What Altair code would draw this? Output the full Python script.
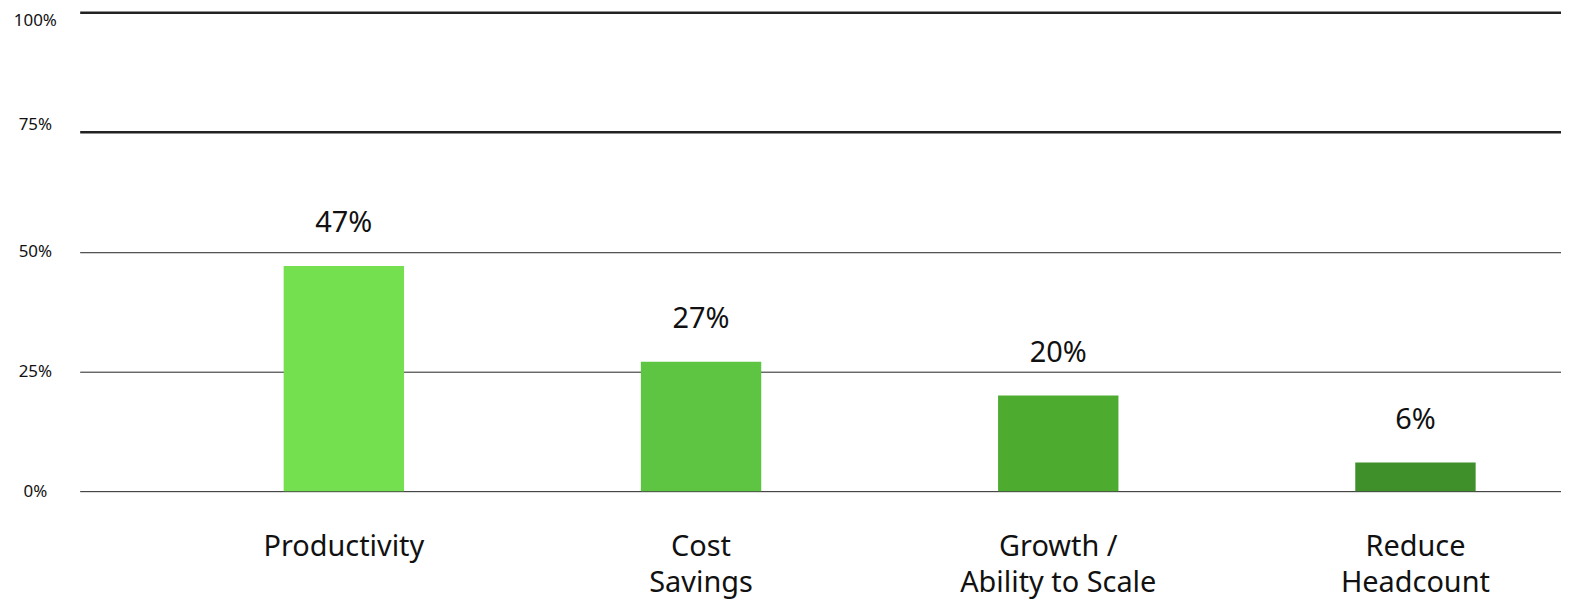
import altair as alt
import pandas as pd

categories = ["Productivity", "Cost\nSavings", "Growth /\nAbility to Scale", "Reduce\nHeadcount"]
values = [47, 27, 20, 6]
value_labels = ["47%", "27%", "20%", "6%"]
colors = ["#74E04F", "#5DC542", "#4DAB30", "#3F8F2A"]
y_ticks = [0, 25, 50, 75, 100]

df = pd.DataFrame({"cat": categories, "val": values, "lab": value_labels, "col": colors})

FONT = "Noto Sans"

x_enc = alt.X("cat:N", sort=categories,
              scale=alt.Scale(paddingInner=0.663, paddingOuter=0.405, align=0.705),
              axis=alt.Axis(title=None, domain=False, ticks=False, labelAngle=0,
                            labelFontSize=29, labelFont=FONT, labelColor="#111",
                            labelPadding=42, labelLineHeight=36, labelLimit=500,
                            labelExpr="split(datum.label, '\\n')"))
y_enc = alt.Y("val:Q", scale=alt.Scale(domain=[0, 100], nice=False),
              axis=alt.Axis(title=None, values=y_ticks, domain=False, ticks=False,
                            labelExpr="datum.value + '%'", labelFontSize=17, labelFont=FONT,
                            labelColor="#111", labelAlign="center", labelPadding=45,
                            labelOffset={"expr": "datum.value == 100 ? 8 : datum.value == 75 ? -8 : 0"},
                            grid=True, gridColor="#222",
                            gridWidth={"expr": "datum.value >= 75 ? 2.5 : 1"}))

bars = alt.Chart(df).mark_bar().encode(
    x=x_enc, y=y_enc,
    color=alt.Color("col:N", scale=None),
)
text = alt.Chart(df).mark_text(baseline="bottom", dy=-28, fontSize=29, font=FONT, color="#111").encode(
    x=alt.X("cat:N", sort=categories), y="val:Q", text="lab:N"
)

chart = (bars + text).properties(
    width=1488, height=481,
    autosize=alt.AutoSizeParams(type="none"),
    padding={"left": 72, "top": 3, "right": 0, "bottom": 109},
).configure_view(stroke=None)

chart.save("out.html", embed_options={"renderer": "svg", "actions": False})
